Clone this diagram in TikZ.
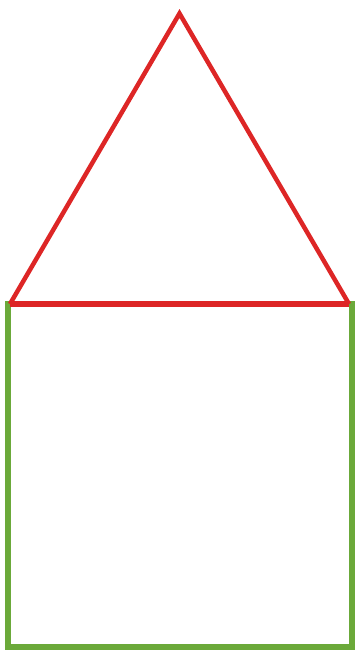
\documentclass[tikz,border=0pt]{standalone}
\definecolor{roofred}{HTML}{DD2626}
\definecolor{wallgreen}{HTML}{6BA93A}
\tikzset{
  wall/.style={draw=wallgreen, line width=6pt},
  roofbase/.style={draw=roofred, line width=6.5pt},
  roofside/.style={draw=roofred, line width=4.5pt, line join=miter}
}
\begin{document}
\begin{tikzpicture}[x=1pt,y=1pt]
\useasboundingbox (0,0) rectangle (357,650);
\coordinate (bl) at (8,2.5);
\coordinate (tr) at (352,346);
\coordinate (rl) at (10,346);
\coordinate (rr) at (349,346);
\coordinate (apex) at (179.5,636.5);
\draw[wall] (bl) rectangle (tr);
\draw[roofside] (rl) -- (apex) -- (rr);
\draw[roofbase] (rl) -- (rr);
\end{tikzpicture}
\end{document}
